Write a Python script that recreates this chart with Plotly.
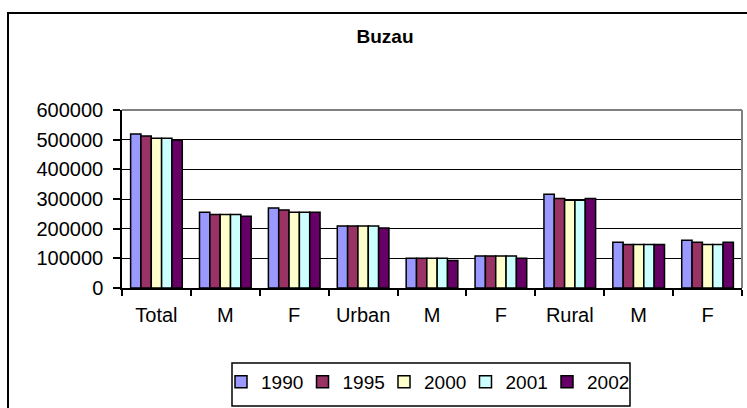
import plotly.graph_objects as go

categories = ["Total", "M", "F", "Urban", "M", "F", "Rural", "M", "F"]
years = ["1990", "1995", "2000", "2001", "2002"]
v1990 = [519000, 255000, 270000, 209000, 100000, 108000, 316000, 154000, 161000]
v1995 = [512000, 248000, 263000, 209000, 100000, 108000, 302000, 147000, 154000]
v2000 = [505000, 248000, 255000, 209000, 100000, 108000, 296000, 147000, 147000]
v2001 = [505000, 248000, 255000, 209000, 100000, 108000, 296000, 147000, 147000]
v2002 = [499000, 242000, 255000, 202000, 93000, 100000, 302000, 147000, 154000]
series = [v1990, v1995, v2000, v2001, v2002]
colors = ["#9999FF", "#993366", "#FFFFCC", "#CCFFFF", "#660066"]
yticks = [0, 100000, 200000, 300000, 400000, 500000, 600000]

W, H = 747, 408
L, R, T, B = 122, 5, 110, 120
pw, ph = W - L - R, H - T - B

def px(x):
    return (x - L) / pw

def py(y):
    return (H - B - y) / ph

xs = list(range(len(categories)))
fig = go.Figure()
for name, vals, c in zip(years, series, colors):
    fig.add_trace(go.Bar(x=xs, y=vals, name=name,
                         marker=dict(color=c, line=dict(color="black", width=1.5))))

fam = "Liberation Sans, Arial"
font = dict(family=fam, size=20, color="black")
fig.update_layout(
    width=W, height=H,
    margin=dict(l=L, r=R, t=T, b=B, autoexpand=False),
    paper_bgcolor="white", plot_bgcolor="white",
    font=font,
    barmode="group", bargap=0.25, bargroupgap=0,
    title=dict(text="<b>Buzau</b>", x=385 / W, xanchor="center", xref="container",
               y=1 - 36.5 / H, yanchor="middle", yref="container",
               font=dict(family=fam, size=19, color="black")),
    showlegend=True,
    legend=dict(orientation="h", x=px(221), xanchor="left", y=py(363), yanchor="top",
                borderwidth=0, bgcolor="rgba(0,0,0,0)",
                font=dict(family=fam, size=19, color="black"),
                traceorder="normal", entrywidth=36.5),
    xaxis=dict(range=[-0.5, len(categories) - 0.5], tickvals=xs, ticktext=categories,
               ticks="", showgrid=False, zeroline=False, automargin=False,
               showline=True, linecolor="black", linewidth=1.5,
               minor=dict(tickvals=[i - 0.5 for i in range(len(categories) + 1)],
                          ticks="outside", ticklen=6, tickcolor="black", tickwidth=1.5,
                          showgrid=False),
               ticklabelstandoff=8),
    yaxis=dict(range=[0, 600000], tickvals=yticks, ticktext=[str(v) for v in yticks],
               ticks="outside", ticklen=7, tickcolor="black", tickwidth=1.5,
               showgrid=True, gridcolor="black", gridwidth=1.2, automargin=False,
               zeroline=False, showline=True, linecolor="black", linewidth=1.5,
               ticklabelstandoff=6),
    shapes=[
        dict(type="line", xref="paper", yref="paper", x0=0, x1=1, y0=1, y1=1,
             line=dict(color="#808080", width=2), layer="above"),
        dict(type="line", xref="paper", yref="paper", x0=1, x1=1, y0=0, y1=1,
             line=dict(color="#808080", width=2), layer="above"),
        dict(type="rect", xref="paper", yref="paper", x0=px(8), x1=px(760),
             y0=py(420), y1=py(13), line=dict(color="black", width=2),
             fillcolor="rgba(0,0,0,0)", layer="above"),
        dict(type="rect", xref="paper", yref="paper", x0=px(232), x1=px(630),
             y0=py(406), y1=py(363), line=dict(color="black", width=1.5),
             fillcolor="rgba(0,0,0,0)", layer="above"),
    ],
)
fig.write_html("out.html", config={"displayModeBar": False},
               post_script="document.body.style.margin='0';document.body.style.overflow='hidden';")
